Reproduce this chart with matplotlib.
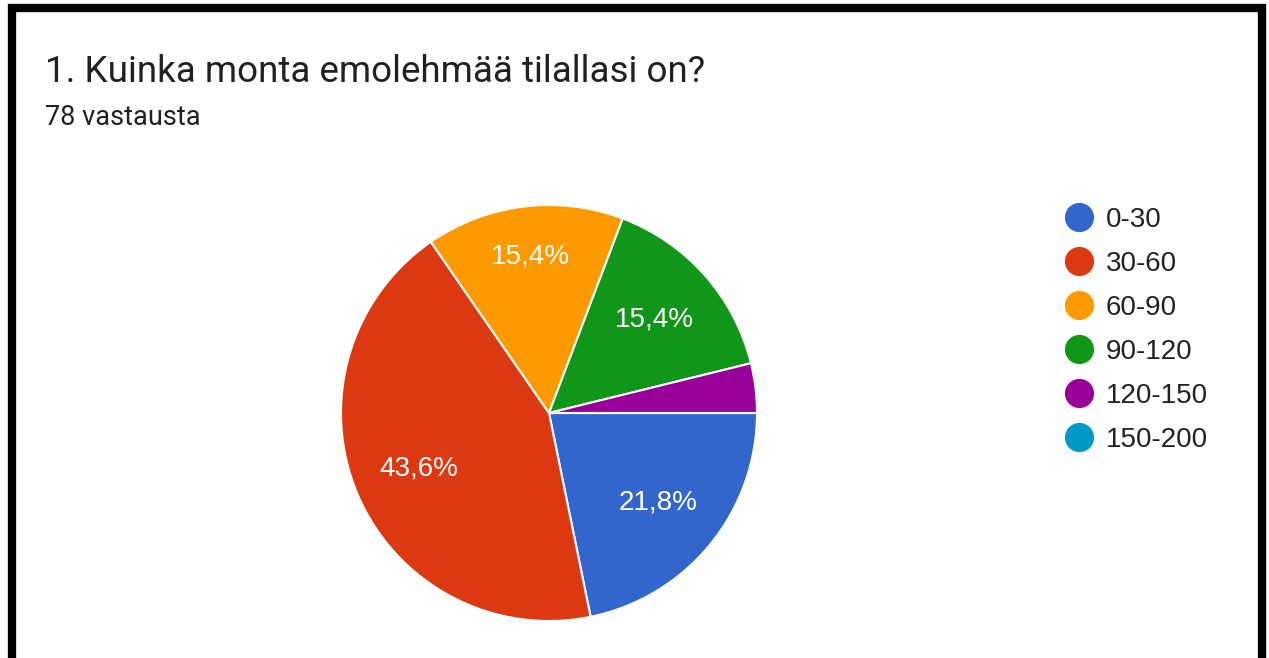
import matplotlib.pyplot as plt
import numpy as np
from matplotlib.lines import Line2D
from matplotlib.patches import Rectangle

# answers (count of farms) per herd size
labels = ['0-30', '30-60', '60-90', '90-120', '120-150', '150-200']
counts = [17, 34, 12, 12, 3, 0]
colors = ['#3366CC', '#DC3912', '#FF9900', '#109618', '#990099', '#0099C6']

title = '1. Kuinka monta emolehmää tilallasi on?'
subtitle = '78 vastausta'

W, H = 1269, 658
fig = plt.figure(figsize=(W / 100, H / 100), dpi=100)
fig.patch.set_facecolor('white')

# pie axes: centre (549, 413) px, radius 208 px
cx, cy, r = 549, 413, 208
ax = fig.add_axes([(cx - r) / W, (H - cy - r) / H, 2 * r / W, 2 * r / H])

def fmt(p):
    if p < 5:
        return ''
    return ('%.1f%%' % p).replace('.', ',')

wedges, _, autotexts = ax.pie(counts, colors=colors, startangle=0,
                              counterclock=False, autopct=fmt,
                              pctdistance=0.68,
                              wedgeprops=dict(edgecolor='white', linewidth=1.5),
                              textprops=dict(color='white', fontsize=20,
                                             family='Liberation Sans'))
# orange label sits a bit further out in the original
w = wedges[2]
mid = np.deg2rad((w.theta1 + w.theta2) / 2)
autotexts[2].set_position((0.76 * np.cos(mid), 0.76 * np.sin(mid)))

ax.set_xlim(-1, 1)
ax.set_ylim(-1, 1)
ax.set_aspect('equal')
ax.axis('off')

fig.text(45 / W, 1 - 82 / H, title, fontsize=26.5, family='Roboto',
         color='#212121', va='baseline')
fig.text(45 / W, 1 - 125 / H, subtitle, fontsize=19.5, family='Roboto',
         color='#212121', va='baseline')

handles = [Line2D([], [], marker='o', linestyle='none', markersize=20,
                  markerfacecolor=c, markeredgecolor=c) for c in colors]
fig.legend(handles, labels, loc='upper left',
           bbox_to_anchor=(1065 / W, 1 - 207 / H), frameon=False,
           prop=dict(family='Liberation Sans', size=20),
           labelcolor='#222222', handletextpad=0.47, labelspacing=0.645,
           handlelength=1.0, borderaxespad=0, borderpad=0)

# black frame around the screenshot
fig.patches.append(Rectangle((12 / W, -2 / H), 1250 / W, (H - 8 + 2) / H,
                             transform=fig.transFigure, fill=False,
                             edgecolor='black', linewidth=6))

fig.savefig('out.png', dpi=100)
